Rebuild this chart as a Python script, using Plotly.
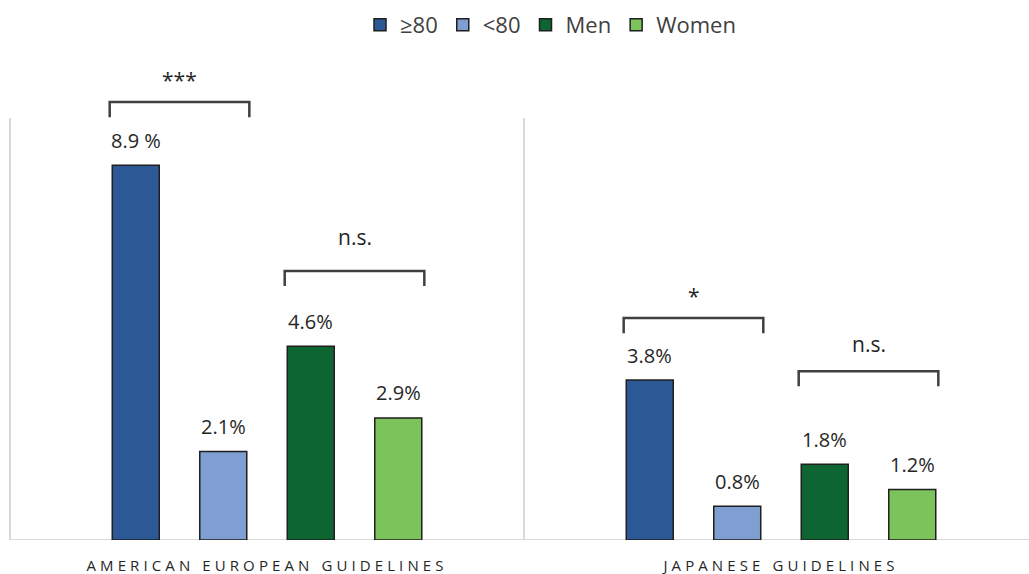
import plotly.graph_objects as go

# ---- data -------------------------------------------------------------
categories = ["AMERICAN EUROPEAN GUIDELINES", "JAPANESE GUIDELINES"]
series_names = ["≥80", "<80", "Men", "Women"]
ge80 = [8.9, 3.8]
lt80 = [2.1, 0.8]
men = [4.6, 1.8]
women = [2.9, 1.2]
ge80_text = ["8.9 %", "3.8%"]
lt80_text = ["2.1%", "0.8%"]
men_text = ["4.6%", "1.8%"]
women_text = ["2.9%", "1.2%"]

# significance comparisons: (category index, first series, second series, label)
comparisons = [(0, 0, 1, "***"), (0, 2, 3, "n.s."), (1, 0, 1, "*"), (1, 2, 3, "n.s.")]

# ---- style / layout settings -----------------------------------------
colors = ["#2C5895", "#7F9ED1", "#0D6532", "#7DC35C"]
outline = "#1F1F1F"
FONT = "Open Sans"
BARGAP = 0.319
GROUPGAP = 0.463
bracket_levels = [10.40, 6.39, 5.27, 4.01]
bracket_text_shift = [22, 34, 22, 27]
bracket_drop = 0.36
bracket_pad = 0.005
X_RANGE = [-0.5195, 1.4825]
Y_RANGE = [0, 11.40]
FRAME_TOP = 10.02

values = [ge80, lt80, men, women]
texts = [ge80_text, lt80_text, men_text, women_text]
n_series = len(values)
xpos = list(range(len(categories)))

fig = go.Figure()
for name, vals, col in zip(series_names, values, colors):
    fig.add_trace(go.Bar(
        x=xpos, y=vals, name=name,
        marker=dict(color=col, line=dict(color=outline, width=1.5)),
    ))

# bar geometry in axis units, mirroring plotly's grouped layout
slot = (1 - BARGAP) / n_series
half_w = slot * (1 - GROUPGAP) / 2


def bar_center(cat, k):
    return cat + (k - (n_series - 1) / 2) * slot


annotations = []
for k, (vals, labs) in enumerate(zip(values, texts)):
    for c, (v, t) in enumerate(zip(vals, labs)):
        annotations.append(dict(
            x=bar_center(c, k), y=v, text=t, showarrow=False,
            yanchor="middle", yshift=25,
            font=dict(family=FONT, size=20, color="#262626"),
        ))

shapes = []
for (c, a, b, lab), lvl, shift in zip(comparisons, bracket_levels, bracket_text_shift):
    x0 = bar_center(c, a) - half_w - bracket_pad
    x1 = bar_center(c, b) + half_w + bracket_pad
    yb = lvl - bracket_drop
    shapes.append(dict(
        type="path", xref="x", yref="y",
        path=f"M{x0},{yb} L{x0},{lvl} L{x1},{lvl} L{x1},{yb}",
        line=dict(color="#404040", width=2.5),
    ))
    annotations.append(dict(
        x=(x0 + x1) / 2, y=lvl, text=lab, showarrow=False,
        yanchor="middle", yshift=shift,
        font=dict(family=FONT, size=21, color="#262626"),
    ))

# frame: baseline, left border and group separator
grid = dict(color="#D9D9D9", width=2)
shapes.append(dict(type="line", xref="x", yref="y", x0=-0.5, x1=X_RANGE[1],
                   y0=0, y1=0, line=grid, layer="below"))
for xv in (-0.5, 0.5):
    shapes.append(dict(type="line", xref="x", yref="y", x0=xv, x1=xv,
                       y0=0, y1=FRAME_TOP, line=grid, layer="below"))

ticktext = [f'<span style="letter-spacing:4.1px">{c}</span>' for c in categories]

fig.update_layout(
    width=1029, height=574,
    margin=dict(l=0, r=0, t=60, b=34),
    paper_bgcolor="white", plot_bgcolor="white",
    barmode="group", bargap=BARGAP, bargroupgap=GROUPGAP,
    font=dict(family=FONT, color="#262626"),
    showlegend=True,
    legend=dict(
        orientation="h", x=0.535, xanchor="center", y=1.073, yanchor="middle",
        font=dict(family=FONT, size=22, color="#404040"),
        itemwidth=30, traceorder="normal",
    ),
    xaxis=dict(
        range=X_RANGE, tickvals=xpos, ticktext=ticktext,
        showgrid=False, zeroline=False, showline=False, ticks="",
        ticklabelstandoff=15,
        tickfont=dict(family=FONT, size=15, color="#262626"),
    ),
    yaxis=dict(range=Y_RANGE, visible=False, showgrid=False, zeroline=False),
    shapes=shapes,
    annotations=annotations,
)

fig.write_html("out.html")
